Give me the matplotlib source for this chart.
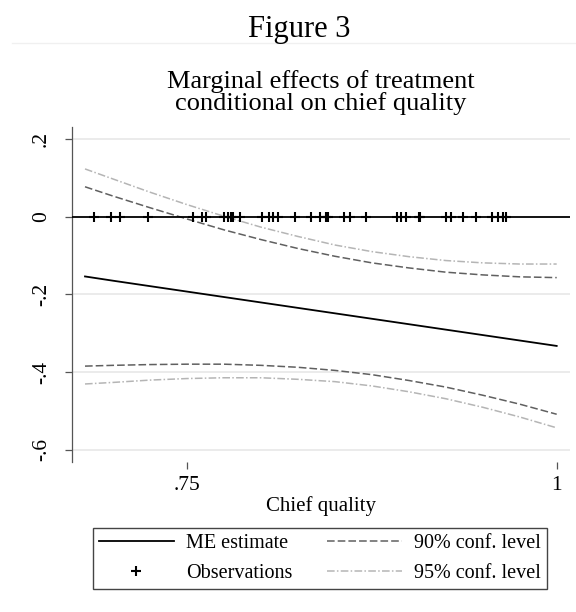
import matplotlib
matplotlib.use("Agg")
import matplotlib.pyplot as plt
from matplotlib.lines import Line2D

plt.rcParams['font.family'] = ['Liberation Serif', 'DejaVu Serif']

# chief quality grid where the marginal effect was evaluated
quality = [0.681, 0.70, 0.725, 0.75, 0.775, 0.80, 0.825, 0.85, 0.875, 0.90, 0.925, 0.95, 0.975, 1.0]
me_estimate = [-0.154, -0.165, -0.179, -0.193, -0.207, -0.221, -0.235, -0.249, -0.263, -0.277, -0.291, -0.305, -0.319, -0.333]
upper90 = [0.077, 0.053, 0.023, -0.006, -0.034, -0.059, -0.082, -0.102, -0.119, -0.132, -0.143, -0.150, -0.155, -0.157]
lower90 = [-0.385, -0.383, -0.381, -0.380, -0.380, -0.383, -0.388, -0.396, -0.407, -0.422, -0.439, -0.460, -0.483, -0.509]
upper95 = [0.123, 0.097, 0.063, 0.031, 0.001, -0.027, -0.051, -0.073, -0.090, -0.103, -0.113, -0.119, -0.122, -0.122]
lower95 = [-0.431, -0.427, -0.421, -0.417, -0.415, -0.415, -0.419, -0.425, -0.436, -0.451, -0.469, -0.491, -0.516, -0.544]

# observed chief quality values (rug along zero)
observations = [0.6869, 0.6989, 0.7050, 0.7236, 0.7538, 0.7601, 0.7630, 0.7752, 0.7779, 0.7799,
                0.7813, 0.7855, 0.8007, 0.8051, 0.8081, 0.8115, 0.8232, 0.8340, 0.8401, 0.8441,
                0.8455, 0.8563, 0.8599, 0.8711, 0.8919, 0.8948, 0.8982, 0.9066, 0.9076, 0.9250,
                0.9284, 0.9364, 0.9455, 0.9565, 0.9601, 0.9639, 0.9657]

yticks = [0.2, 0, -0.2, -0.4, -0.6]
yticklabels = ['.2', '0', '-.2', '-.4', '-.6']
xticks = [0.75, 1.0]
xticklabels = ['.75', '1']

W, H = 576, 612
fig = plt.figure(figsize=(W / 100, H / 100), dpi=100)
ax = fig.add_axes([71.7 / W, 1 - 462 / H, (570 - 71.7) / W, (462 - 127) / H])

for yv in [0.2, -0.2, -0.4, -0.6]:
    ax.axhline(yv, color='#e8e8e8', lw=1.2, zorder=0)
ax.axhline(0, color='black', lw=1.3, zorder=3)

ax.plot(quality, upper95, color='#b5b5b5', lw=1.1, dashes=(5, 1.5, 1, 1.5), zorder=1)
ax.plot(quality, lower95, color='#b5b5b5', lw=1.1, dashes=(5, 1.5, 1, 1.5), zorder=1)
ax.plot(quality, upper90, color='#606060', lw=1.1, dashes=(5, 2), zorder=2)
ax.plot(quality, lower90, color='#606060', lw=1.1, dashes=(5, 2), zorder=2)
ax.plot(quality, me_estimate, color='black', lw=1.3, zorder=3)
ax.plot(observations, [0] * len(observations), linestyle='none', marker='+',
        color='black', markersize=7.5, mew=1.5, zorder=4)

ax.set_xlim(0.672, 1.009)
ax.set_ylim(-0.632, 0.231)
ax.set_xticks(xticks)
ax.set_xticklabels(xticklabels)
ax.set_yticks(yticks)
ax.set_yticklabels(yticklabels, rotation=90, va='center')
for s in ['top', 'right', 'bottom']:
    ax.spines[s].set_visible(False)
ax.spines['left'].set_color('#555555')
ax.spines['left'].set_linewidth(0.9)
ax.tick_params(axis='both', labelsize=15.5, length=5, width=0.9, color='#555555')
ax.tick_params(axis='y', pad=10)
ax.tick_params(axis='x', pad=5)
ax.set_xlabel('Chief quality', fontsize=15, labelpad=1)
ax.set_title('Marginal effects of treatment\nconditional on chief quality',
             fontsize=19, linespacing=0.95, pad=12)

fig.text(0.52, 1 - 29 / H, 'Figure 3', fontsize=22, ha='center', va='center')
fig.add_artist(Line2D([12 / W, 1], [1 - 43 / H, 1 - 43 / H], color='#f0f0f0', lw=1))

handles = [
    Line2D([], [], color='black', lw=1.3),
    Line2D([], [], color='black', marker='+', linestyle='none', markersize=7.5, mew=1.5),
    Line2D([], [], color='#606060', lw=1.1, dashes=(5, 2)),
    Line2D([], [], color='#b5b5b5', lw=1.1, dashes=(5, 1.5, 1, 1.5)),
]
labels = ['ME estimate', 'Observations', '90% conf. level', '95% conf. level']
leg = fig.legend(handles, labels, ncol=2, loc='upper left',
                 bbox_to_anchor=(93 / W, 1 - 592 / H, 454 / W, 64 / H), mode='expand',
                 borderaxespad=0, fancybox=False, framealpha=1, edgecolor='#444444',
                 fontsize=14.5, handlelength=3.7, handletextpad=0.6, columnspacing=2.0,
                 labelspacing=0.55, borderpad=0.3)
leg.get_frame().set_linewidth(1.0)

fig.savefig('out.png', dpi=100)
